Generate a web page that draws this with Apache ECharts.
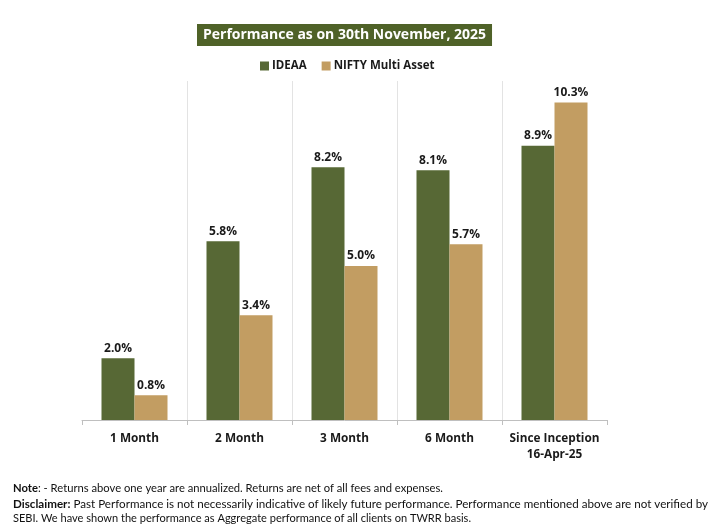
<!DOCTYPE html>
<html>
<head>
<meta charset="utf-8">
<script src="https://cdn.jsdelivr.net/npm/echarts@6/dist/echarts.min.js"></script>
<style>
html,body{margin:0;padding:0;background:#fff;}
#main{width:718px;height:529px;}
</style>
</head>
<body>
<div id="main"></div>
<script>
const categories = ['1 Month', '2 Month', '3 Month', '6 Month', 'Since Inception\n16-Apr-25'];
const ideaa = [2.0, 5.8, 8.2, 8.1, 8.9];
const nifty = [0.8, 3.4, 5.0, 5.7, 10.3];
const seriesNames = ['IDEAA', 'NIFTY Multi Asset'];
const titleText = 'Performance as on 30th November, 2025';
const noteLines = [
  {bold: 'Note', rest: ': - Returns above one year are annualized. Returns are net of all fees and expenses.', width: 430},
  {bold: 'Disclaimer:', rest: ' Past Performance is not necessarily indicative of likely future performance. Performance mentioned above are not verified by', width: 695},
  {bold: '', rest: 'SEBI. We have shown the performance as Aggregate performance of all clients on TWRR basis.', width: 458}
];

const chart = echarts.init(document.getElementById('main'), null, {renderer: 'canvas'});

const noteFont = "12px Lato, 'Open Sans', sans-serif";
const noteBoldFont = "bold 12px Lato, 'Open Sans', sans-serif";
const cv = document.createElement('canvas').getContext('2d');
function measure(font, t){ cv.font = font; return cv.measureText(t).width; }

const graphics = [];
const noteY = [488, 504, 518];
noteLines.forEach((ln, i) => {
  const wb = ln.bold ? measure(noteBoldFont, ln.bold) : 0;
  const wr = measure(noteFont, ln.rest);
  const s = ln.width / (wb + wr);
  graphics.push({
    type: 'group', x: 13, y: noteY[i], scaleX: s,
    children: [
      {type: 'text', x: 0, y: 0, style: {text: ln.bold, font: noteBoldFont, fill: '#111', verticalAlign: 'middle'}},
      {type: 'text', x: wb, y: 0, style: {text: ln.rest, font: noteFont, fill: '#111', verticalAlign: 'middle'}}
    ]
  });
});

const labelStyle = {
  show: true, position: 'top', distance: 4,
  formatter: p => p.value.toFixed(1) + '%',
  fontFamily: "'Open Sans', sans-serif", fontWeight: 'bold', fontSize: 12, color: '#1a1a1a'
};

chart.setOption({
  backgroundColor: '#ffffff',
  animation: false,
  title: {
    text: titleText,
    left: 197, top: 24,
    backgroundColor: '#4F6228',
    padding: [3, 6, 3, 6],
    textStyle: {color: '#fff', fontFamily: "'Open Sans', sans-serif", fontWeight: 'bold', fontSize: 14, lineHeight: 16}
  },
  legend: {
    data: seriesNames,
    left: 255, top: 55,
    itemWidth: 9, itemHeight: 9, itemGap: 15,
    icon: 'rect',
    textStyle: {fontFamily: "'Open Sans', sans-serif", fontWeight: 'bold', fontSize: 11.5, color: '#1a1a1a', padding: [0, 0, 0, -2]}
  },
  grid: {left: 82, right: 111, top: 81, bottom: 109, containLabel: false},
  xAxis: {
    type: 'category',
    data: categories,
    boundaryGap: true,
    axisLine: {show: true, lineStyle: {color: '#bfbfbf', width: 1}},
    axisTick: {show: true, length: 5, interval: 0, lineStyle: {color: '#bfbfbf'}},
    splitLine: {show: true, interval: 0, lineStyle: {color: ['transparent', '#e3e3e3', '#e3e3e3', '#e3e3e3', '#e3e3e3', 'transparent'], width: 1}},
    axisLabel: {interval: 0, margin: 11, fontFamily: "'Open Sans', sans-serif", fontWeight: 'bold', fontSize: 11.8, color: '#1a1a1a', lineHeight: 16}
  },
  yAxis: {
    type: 'value', min: 0, max: 11, show: false,
    splitLine: {show: false}
  },
  series: [
    {name: seriesNames[0], type: 'bar', data: ideaa, barWidth: 33, barGap: '0%',
     itemStyle: {color: '#576835'}, label: labelStyle},
    {name: seriesNames[1], type: 'bar', data: nifty, barWidth: 33, barGap: '0%',
     itemStyle: {color: '#C29D62'}, label: labelStyle}
  ],
  graphic: graphics
});
</script>
</body>
</html>
